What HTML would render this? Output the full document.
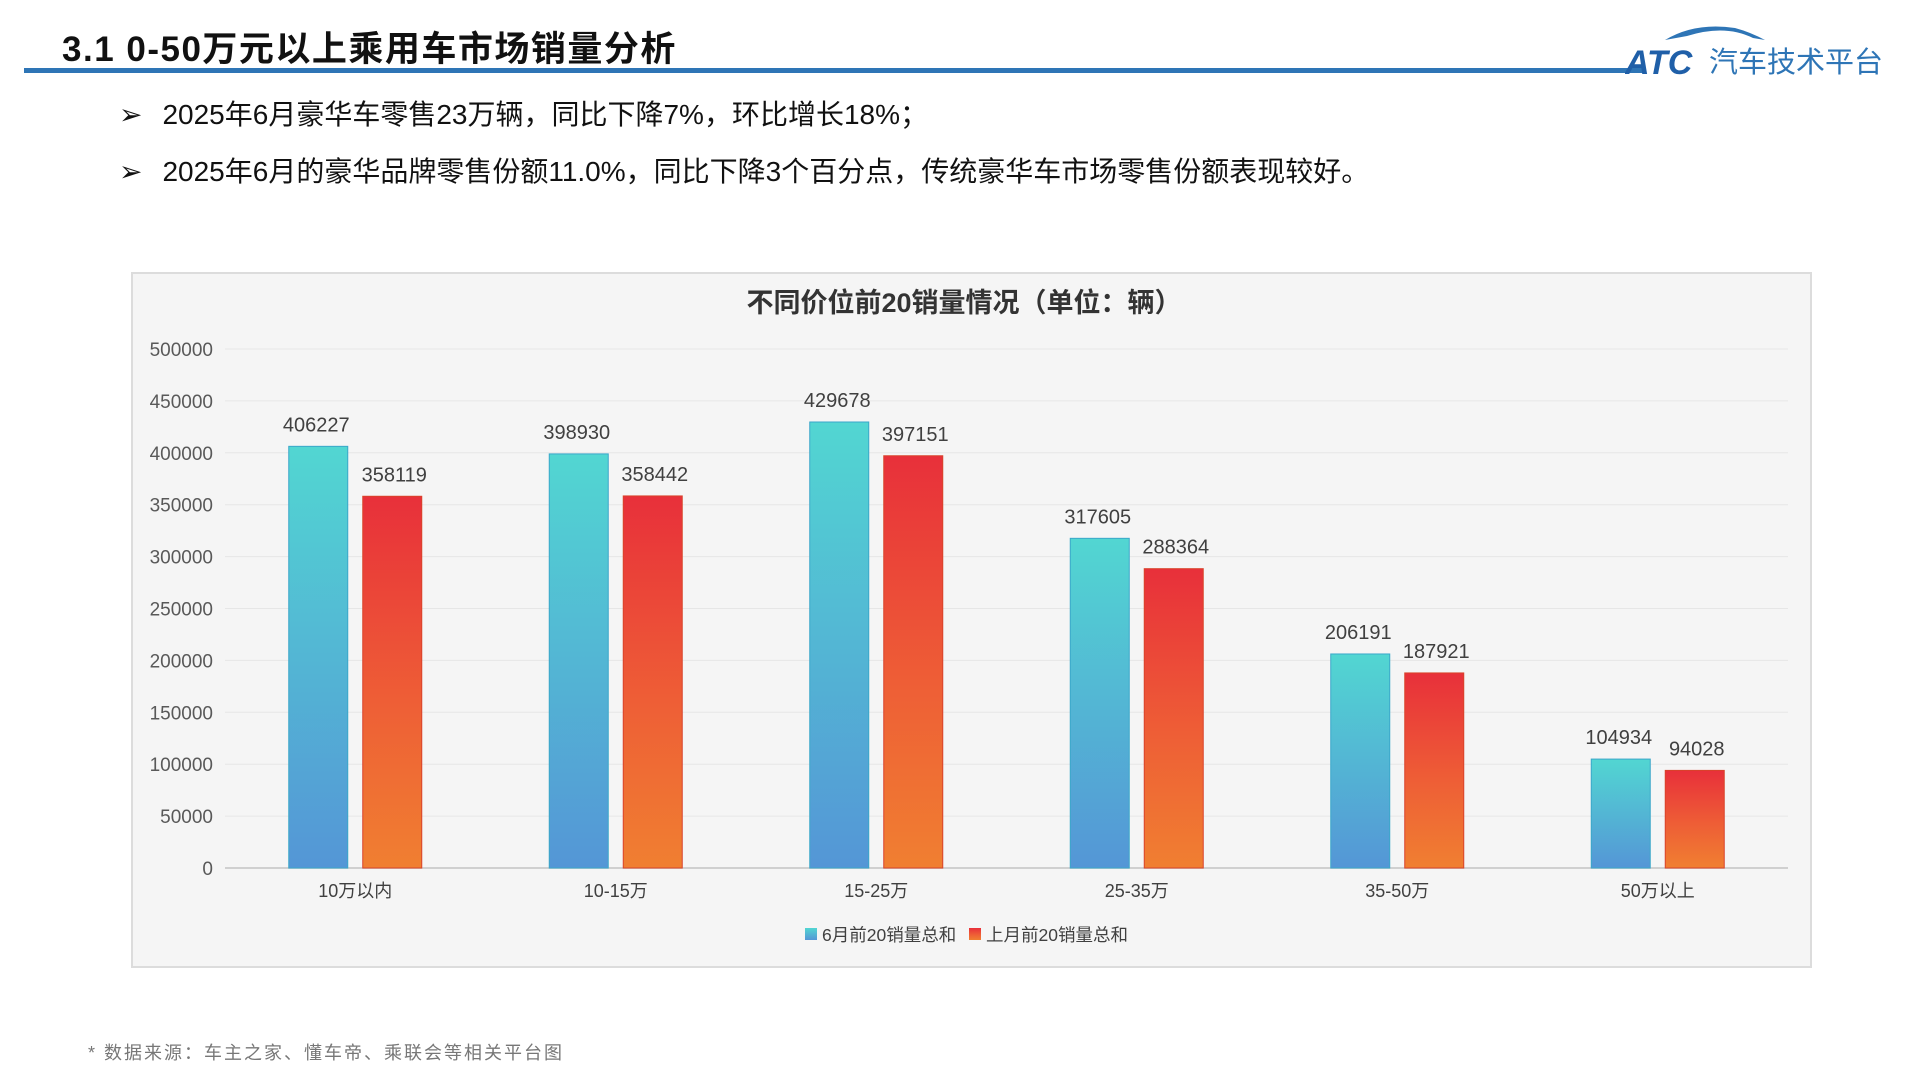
<!DOCTYPE html>
<html><head><meta charset="utf-8"><style>
html,body{margin:0;padding:0;width:1920px;height:1080px;background:#fff;overflow:hidden;font-family:"Liberation Sans","Noto Sans CJK SC",sans-serif;}
.abs{position:absolute;}
</style></head><body>
<div class="abs" style="left:62px;top:21px;font-size:35px;font-weight:bold;color:#111;letter-spacing:1.5px;">3.1 0-50万元以上乘用车市场销量分析</div>
<div class="abs" style="left:24px;top:68px;width:1620px;height:5px;background:#2e75b6;"></div>
<div class="abs" style="left:1625px;top:18px;width:290px;height:60px;">
<svg width="290" height="60"><path d="M40 22 Q70 4 110 10 Q125 14 140 22 L128 20 Q100 6 62 18 Z" fill="#2e75b6"/>
<text x="0" y="56" font-family="Liberation Sans" font-style="italic" font-weight="bold" font-size="34" fill="#1f5fa8">ATC</text>
<text x="84" y="54" font-family="Noto Sans CJK SC" font-size="29" fill="#2e75b6">汽车技术平台</text></svg></div>
<div class="abs" style="left:119px;top:93px;font-size:28px;color:#111;"><span style="margin-right:20px">➢</span>2025年6月豪华车零售23万辆，同比下降7%，环比增长18%；</div>
<div class="abs" style="left:119px;top:150px;font-size:28px;color:#111;"><span style="margin-right:20px">➢</span>2025年6月的豪华品牌零售份额11.0%，同比下降3个百分点，传统豪华车市场零售份额表现较好。</div>
<div class="abs" style="left:131px;top:272px;width:1677px;height:692px;background:#f5f5f5;border:2px solid #dcdcdc;"></div>
<svg id="chart" class="abs" style="left:0;top:0" width="1920" height="1080"></svg>
<div class="abs" style="left:88px;top:1039px;font-size:18px;color:#777;letter-spacing:2px;">* 数据来源：车主之家、懂车帝、乘联会等相关平台图</div>
<script>
const categories=["10万以内","10-15万","15-25万","25-35万","35-50万","50万以上"];
const juneValues=[406227,398930,429678,317605,206191,104934];
const prevValues=[358119,358442,397151,288364,187921,94028];
const yTicks=[0,50000,100000,150000,200000,250000,300000,350000,400000,450000,500000];
const seriesNames=["6月前20销量总和","上月前20销量总和"];
const NS="http://www.w3.org/2000/svg";
const svg=document.getElementById('chart');
const x0=225,x1=1788,yTop=349,yBot=868,yMax=500000;
const band=(x1-x0)/categories.length;
function yScale(v){return yBot-(v/yMax)*(yBot-yTop);}
function xCenter(i){return x0+band*(i+0.5);}
function mk(tag,attrs,parent){const e=document.createElementNS(NS,tag);for(const k in attrs)e.setAttribute(k,attrs[k]);(parent||svg).appendChild(e);return e;}
const defs=mk('defs',{});
const g1=mk('linearGradient',{id:'gb',x1:0,y1:0,x2:0,y2:1},defs);
mk('stop',{offset:'0','stop-color':'#52d6d2'},g1);mk('stop',{offset:'1','stop-color':'#5496d6'},g1);
const g2=mk('linearGradient',{id:'gr',x1:0,y1:0,x2:0,y2:1},defs);
mk('stop',{offset:'0','stop-color':'#e8303a'},g2);mk('stop',{offset:'0.55','stop-color':'#ee5e36'},g2);mk('stop',{offset:'1','stop-color':'#f07f31'},g2);
const t=mk('text',{x:964,y:312,'text-anchor':'middle','font-size':27,'font-weight':'bold',fill:'#333','font-family':'Liberation Sans, Noto Sans CJK SC, sans-serif'});
t.textContent="不同价位前20销量情况（单位：辆）";


yTicks.forEach(v=>{
  const y=yScale(v);
  const l=mk('line',{x1:x0,x2:x1,y1:y,y2:y,stroke:v===0?'#d0d0d0':'#e6e6e6','stroke-width':v===0?2:1});
  
  
  const tx=mk('text',{x:213,y:y+7,'text-anchor':'end','font-size':19,fill:'#595959','font-family':'Liberation Sans, sans-serif'});
  tx.textContent=v;
  
  
});
const bw=59;
categories.forEach((c,i)=>{
  const cx=xCenter(i);
  [[juneValues[i],cx-37,'url(#gb)','#3aa7c9'],[prevValues[i],cx+37,'url(#gr)','#d9432a']].forEach((s,j)=>{
    const y=yScale(s[0]);
    const r=mk('rect',{x:s[1]-bw/2,y:y,width:bw,height:yBot-y,fill:s[2],stroke:s[3],'stroke-width':1});
    
    
    const lb=mk('text',{x:s[1]+(j===0?-2:2),y:y-15,'text-anchor':'middle','font-size':20,fill:'#404040','font-family':'Liberation Sans, sans-serif'});
    lb.textContent=s[0];
    
    
  });
  const xl=mk('text',{x:cx,y:897,'text-anchor':'middle','font-size':18,fill:'#404040','font-family':'Liberation Sans, Noto Sans CJK SC, sans-serif'});
  xl.textContent=c;
  
  
});
const lg=[[805,'url(#gb)'],[969,'url(#gr)']];
seriesNames.forEach((n,i)=>{
  const r=mk('rect',{x:lg[i][0],y:928,width:12,height:12,fill:lg[i][1]});
  
  
  const tx=mk('text',{x:lg[i][0]+17,y:941,'font-size':17.5,fill:'#404040','font-family':'Liberation Sans, Noto Sans CJK SC, sans-serif'});
  tx.textContent=n;
  
  
});
</script>
</body></html>
